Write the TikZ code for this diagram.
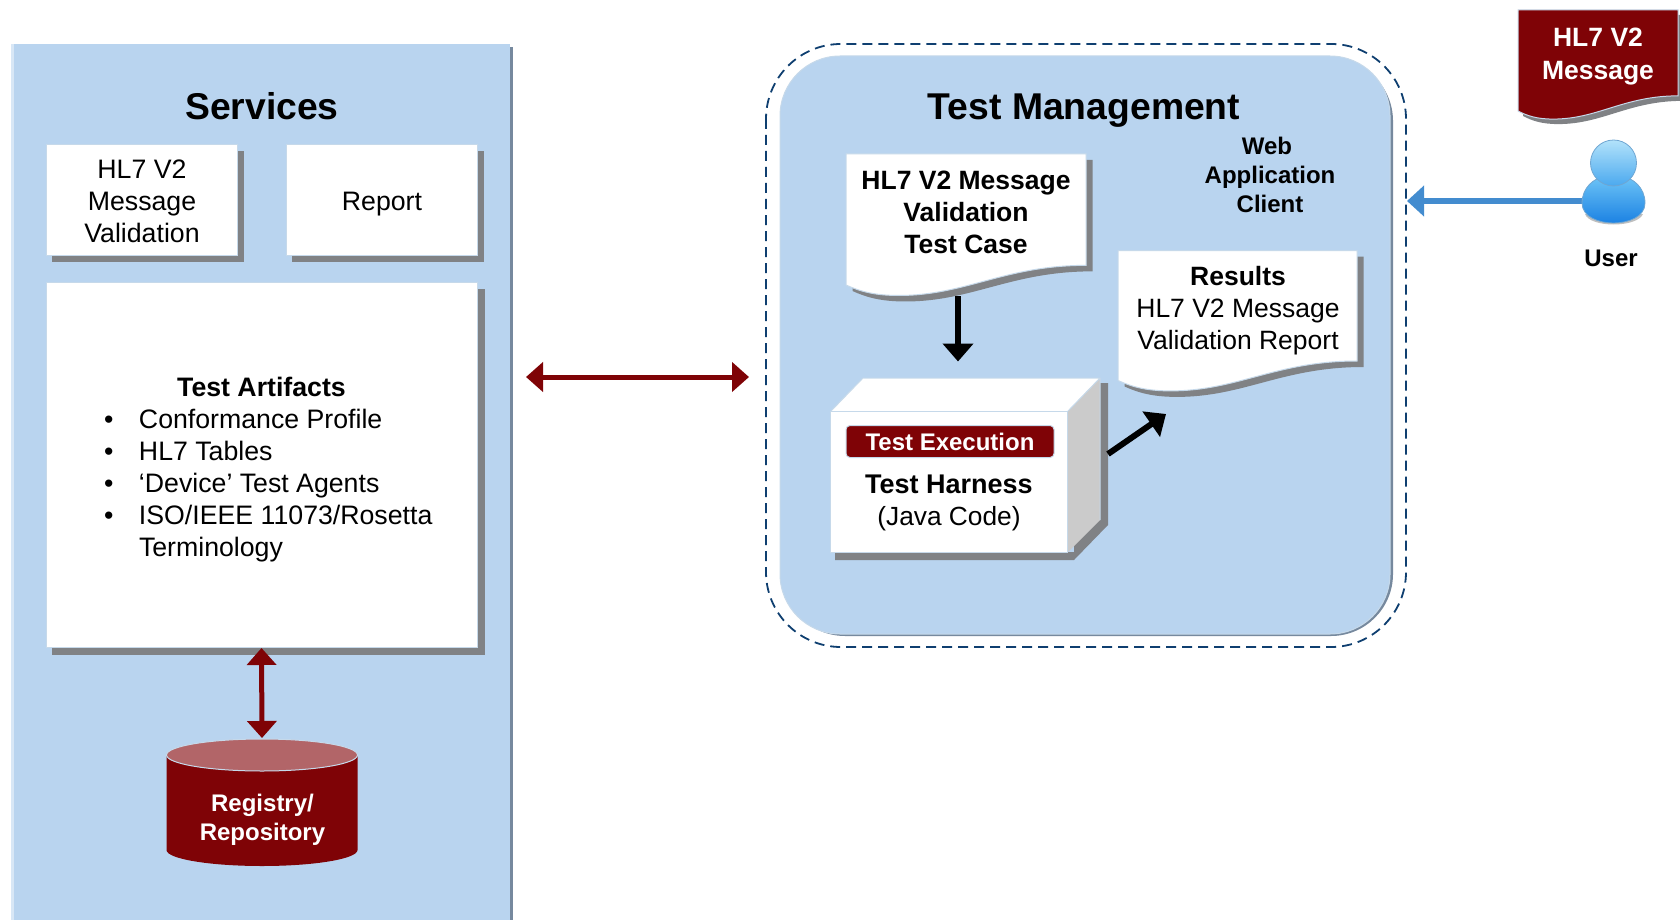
\documentclass[tikz,border=0pt]{standalone}
\usepackage{fontspec}
\setmainfont{Liberation Sans}
\usetikzlibrary{arrows.meta,calc}
\definecolor{panel}{HTML}{B9D4EF}
\definecolor{panelshadow}{HTML}{76899E}
\definecolor{panellight}{HTML}{D8E7F6}
\definecolor{maroon}{HTML}{7F0306}
\definecolor{capmaroon}{HTML}{B26568}
\definecolor{greyshadow}{HTML}{808285}
\definecolor{edge}{HTML}{C6D9EA}
\definecolor{dashblue}{HTML}{0F3F70}
\definecolor{userarrow}{HTML}{438CCF}
\definecolor{sidegrey}{HTML}{CBCBCB}
\definecolor{headtop}{HTML}{B2E2FA}
\definecolor{headbottom}{HTML}{4BA9EF}
\definecolor{bodytop}{HTML}{6CC3F6}
\definecolor{bodybottom}{HTML}{1C82E3}
\definecolor{useredge}{HTML}{6FA6D2}
\newcommand{\wavepath}{(0,0) -- (100,0) -- (100,85) .. controls (66,85) and (50,108) .. (22,108) .. controls (12,108) and (6,105) .. (0,100) -- cycle}
\newcommand{\fsize}[2]{\fontsize{#1}{#2}\selectfont}
\newcommand{\lowered}[2]{\raisebox{0pt}[\dimexpr\height+#1\relax][\depth]{#2}}
\tikzset{
  whitebox/.style={rectangle,fill=white,draw=edge,line width=1pt,inner sep=0pt,align=center,font=\fsize{26.7}{32}},
  plaintext/.style={inner sep=0pt,align=center},
  titletext/.style={plaintext,font=\fsize{37.3}{44}\bfseries},
  maroonarrow/.style={draw=maroon,line width=5pt,{Triangle[length=17pt,width=29pt]}-{Triangle[length=17pt,width=29pt]}},
  blackarrow/.style={draw=black,line width=6pt,-{Triangle[length=18pt,width=30pt]}},
  bluearrow/.style={draw=userarrow,line width=5.5pt,-{Triangle[length=17pt,width=30pt]}}
}
\begin{document}
\begin{tikzpicture}[x=1pt,y=-1pt]
\useasboundingbox (0,0) rectangle (1680,920);
% Services panel
\fill[panellight] (11,44) rectangle (500,920);
\fill[panelshadow] (20,47) rectangle (513,920);
\node[rectangle,fill=panel,inner sep=0pt,minimum width=496pt,minimum height=876pt] (services) at (262,482) {};
\node[titletext] (servicestitle) at (262,106) {Services};
% white boxes
\fill[greyshadow] (52,151) rectangle (244,262);
\node[whitebox,minimum width=191pt,minimum height=110pt] (validation) at (141.5,200) {\lowered{2pt}{\parbox{191pt}{\centering\hspace*{1pt}HL7 V2\\\hspace*{1pt}Message\\\hspace*{1pt}Validation}}};
\fill[greyshadow] (292,151) rectangle (484,262);
\node[whitebox,minimum width=191pt,minimum height=110pt] (report) at (381.5,200) {\lowered{8.6pt}{\hspace*{1pt}Report}};
\fill[greyshadow] (52,289) rectangle (485,655);
\node[whitebox,minimum width=431pt,minimum height=365pt] (artifacts) at (261.5,465) {\lowered{8.6pt}{\parbox{431pt}{%
  \makebox[431pt][c]{\bfseries Test Artifacts}\\
  \hspace*{58pt}\makebox[35pt][l]{•}Conformance Profile\\
  \hspace*{58pt}\makebox[35pt][l]{•}HL7 Tables\\
  \hspace*{58pt}\makebox[35pt][l]{•}‘Device’ Test Agents\\
  \hspace*{58pt}\makebox[35pt][l]{•}ISO/IEEE 11073/Rosetta\\
  \hspace*{93pt}Terminology}}};
% Registry cylinder
\fill[maroon] (166.5,755) -- (166.5,850) arc[start angle=180,end angle=0,x radius=95.5pt,y radius=-16pt] -- (357.5,755) -- cycle;
\draw[fill=capmaroon,draw=edge,line width=1pt] (262,755) ellipse[x radius=95.5pt,y radius=16pt];
\node[plaintext,font=\fsize{24}{29}\bfseries,text=white] (registry) at (262.5,819.5) {Registry/\\Repository};
\coordinate (registrytop) at (262,738);
\draw[maroonarrow] (artifacts.south) -- (registrytop);
% Test management
\draw[dashblue,line width=1.8pt,dash pattern=on 10pt off 6pt,rounded corners=75pt] (766,44) rectangle (1406,647);
\coordinate (dashleft) at (749,377);
\coordinate (dashright) at (1407,201);
\fill[panelshadow,rounded corners=62pt] (783,59) rectangle (1393,636);
\node[rectangle,fill=panel,draw=edge,line width=1pt,rounded corners=60pt,inner sep=0pt,minimum width=610pt,minimum height=578pt] (tm) at (1085,345) {};
\node[titletext] (tmtitle) at (1084,111) {Test Management};
\coordinate (servicesright) at (526,377);
\draw[maroonarrow] (servicesright) -- (dashleft);
% Test case document
\begin{scope}[shift={(852.5,160)},xscale=2.4,yscale=1.31]
\fill[greyshadow] \wavepath;
\end{scope}
\begin{scope}[shift={(846,154)},xscale=2.4,yscale=1.31]
\fill[white,draw=edge,line width=1pt] \wavepath;
\end{scope}
\node[plaintext,font=\fsize{26.5}{32}\bfseries] (testcase) at (966,212) {HL7 V2 Message\\Validation\\Test Case};
% Web application client
\node[plaintext,font=\fsize{24}{29}\bfseries] (webclient) at (1270,175) {Web\hspace*{6pt}\\Application\\Client};
% Results document
\begin{scope}[shift={(1124.5,256.5)},xscale=2.39,yscale=1.3]
\fill[greyshadow] \wavepath;
\end{scope}
\begin{scope}[shift={(1118,250.5)},xscale=2.39,yscale=1.3]
\fill[white,draw=edge,line width=1pt] \wavepath;
\end{scope}
\node[plaintext,font=\fsize{26.5}{32}] (results) at (1238,311) {\textbf{Results}\\HL7 V2 Message\\Validation Report};
% Harness cube
\fill[greyshadow] (1074,383) -- (1108,383) -- (1108,525) -- (1074,560) -- (835,560) -- (835,552) -- (1074,552) -- cycle;
\fill[white] (831,411) -- (863,378) -- (1100,378) -- (1068,411) -- cycle;
\fill[sidegrey] (1068,411) -- (1100,378) -- (1100,520) -- (1068,552) -- cycle;
\draw[edge,line width=1pt,line join=round] (831,411) -- (863,378) -- (1100,378) -- (1068,411) -- (1100,378) -- (1100,520);
\node[whitebox,minimum width=237pt,minimum height=141pt] (harness) at (949,481.5) {};
\node[rectangle,fill=maroon,draw=edge,line width=1pt,rounded corners=4pt,inner sep=0pt,minimum width=208pt,minimum height=32pt,text=white,font=\fsize{24}{28}\bfseries] (execlabel) at (950,441.5) {Test Execution};
\node[plaintext,font=\fsize{26.3}{32}] (harnesstext) at (949,503) {\fontsize{27}{32}\selectfont\textbf{Test Harness}\\(Java Code)};
% connectors in test management
\coordinate (casebottom) at (958,296);
\coordinate (cubetop) at (958,361.5);
\draw[blackarrow] (casebottom) -- (cubetop);
\coordinate (cubeside) at (1108,454);
\coordinate (resultsbottom) at (1166,414);
\draw[blackarrow] (cubeside) -- (resultsbottom);
% HL7 V2 Message document
\begin{scope}[shift={(1523,15)},xscale=1.6,yscale=1.01]
\fill[greyshadow] \wavepath;
\end{scope}
\begin{scope}[shift={(1518,10)},xscale=1.6,yscale=1.01]
\fill[maroon,draw=edge,line width=1pt] \wavepath;
\end{scope}
\node[plaintext,font=\fsize{26.5}{33}\bfseries,text=white] (message) at (1598,57) {HL7 V2\\Message};
% User
\node[rectangle,inner sep=0pt,minimum width=63pt,minimum height=46pt] (usr) at (1613.5,201) {};
\draw[bluearrow] (usr.west) -- (dashright);
\fill[black!25] (1585,214) .. controls (1590,228) and (1637,228) .. (1643,214) -- cycle;
\shade[top color=bodytop,bottom color=bodybottom,draw=useredge,line width=0.8pt]
  (1582,203) .. controls (1582,187) and (1595,178) .. (1603,177) -- (1624,177) .. controls (1632,178) and (1645,187) .. (1645,203) .. controls (1645,217) and (1628,223) .. (1613.5,223) .. controls (1599,223) and (1582,217) .. (1582,203) -- cycle;
\shade[top color=headtop,bottom color=headbottom,draw=useredge,line width=0.8pt] (1613.5,163) circle[radius=23pt];
\node[plaintext,font=\fsize{24}{28}\bfseries] (usertext) at (1611,258) {User};
\end{tikzpicture}
\end{document}
